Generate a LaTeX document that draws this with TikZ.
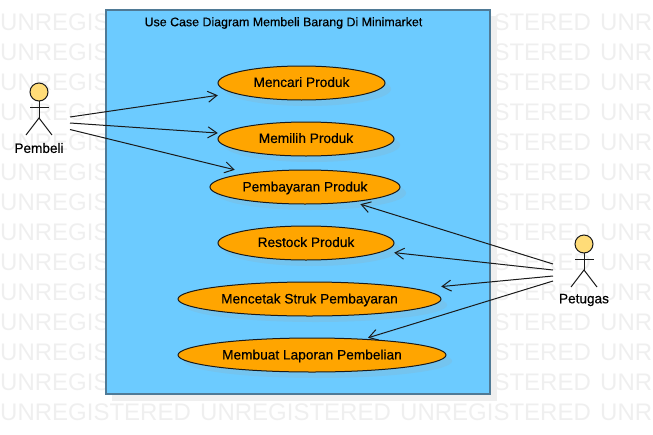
\documentclass[tikz,border=0pt]{standalone}
\usepackage{fontspec}
\setmainfont{Liberation Sans}
\usetikzlibrary{arrows.meta}
\newfontfamily\boldish[FakeBold=0.4]{Liberation Sans}
\definecolor{wm}{HTML}{EFEFEF}
\definecolor{boxfill}{HTML}{6CCBFF}
\definecolor{boxline}{HTML}{4F7A96}
\definecolor{boxshadow}{HTML}{EFEFEF}
\definecolor{caseshadow}{HTML}{74C4EF}
\definecolor{casefill}{HTML}{FFA500}
\definecolor{headfill}{HTML}{FFDC78}
\definecolor{inkline}{HTML}{1A1A1A}
\tikzset{
  watermark/.style={anchor=base west,inner sep=0pt,text=wm,font=\fontsize{24}{24}\selectfont},
  casetext/.style={rectangle,inner sep=0pt,text=black,font=\boldish\fontsize{13.7}{15}\selectfont},
  casering/.style={draw=inkline,line width=1pt,fill=casefill},
  caseshade/.style={fill=caseshadow},
  actorline/.style={draw=inkline,line width=1pt},
  actorlabel/.style={inner sep=0pt,text=black,font=\boldish\fontsize{13.6}{15}\selectfont},
  assoc/.style={draw=inkline,line width=1pt,-{Straight Barb[length=9pt,width=11pt,line width=1pt]}},
  titletext/.style={inner sep=0pt,text=black,font=\boldish\fontsize{12.4}{15}\selectfont}
}
\newcommand{\usecaseshape}[6]{%
  \path[caseshade] (#2+6,#3+6) ellipse [x radius=#4,y radius=17];
  \path[casering] (#2,#3) ellipse [x radius=#4,y radius=17];
  \node[casetext,minimum width=2*#4 pt,minimum height=34pt,text depth=0pt] (#1) at (#2,#3) {\raisebox{#6pt}{#5}};
}
\newcommand{\stickman}[6]{% name, cx, head centre y, label y, label, legs half
  \path[actorline,fill=headfill] (#2,#3) circle [radius=9];
  \path[actorline] (#2,#3+9) -- (#2,#3+26);
  \path[actorline] (#2-9,#3+15) -- (#2+10,#3+15);
  \path[actorline] (#2-#6,#3+43) -- (#2,#3+26) -- (#2+#6,#3+43);
  \node[actorlabel] (#1) at (#2,#4) {#5};
}
\begin{document}
\begin{tikzpicture}[x=1pt,y=-1pt]
\useasboundingbox (0,0) rectangle (653,434);
\begin{scope}
\clip (0,0) rectangle (653,434);
\foreach \r in {0,...,13}{
  \foreach \c in {0,1,2,3}{
    \node[watermark] (wm\r\c) at (\c*200,30+\r*30) {UNREGISTERED};
  }
}
\end{scope}
\path[fill=boxshadow] (112,16) rectangle (497,401);
\path[fill=boxfill,draw=boxline,line width=2pt] (106,10) rectangle (490,394);
\node[titletext] (title) at (283.5,23) {Use Case Diagram Membeli Barang Di Minimarket};
\usecaseshape{mencari}{301.5}{83}{83.5}{Mencari Produk}{2}
\usecaseshape{memilih}{306}{139}{88}{Memilih Produk}{2}
\usecaseshape{bayar}{305}{187}{95}{Pembayaran Produk}{1}
\usecaseshape{restock}{306}{243}{88}{Restock Produk}{2}
\usecaseshape{cetak}{309.5}{299}{131.5}{Mencetak Struk Pembayaran}{1}
\usecaseshape{laporan}{312}{355}{134}{Membuat Laporan Pembelian}{1}
\stickman{pembeli}{39}{92}{148}{Pembeli}{13}
\stickman{petugas}{584}{244}{300}{Petugas}{13}
\coordinate (pa) at (70,117);
\coordinate (pb) at (70,123);
\coordinate (pc) at (70,129.5);
\coordinate (qa) at (553,264);
\coordinate (qb) at (553,270);
\coordinate (qc) at (553,276);
\coordinate (qd) at (553,281);
\draw[assoc] (pa) -- (mencari);
\draw[assoc] (pb) -- (memilih);
\draw[assoc] (pc) -- (bayar);
\draw[assoc] (qa) -- (bayar);
\draw[assoc] (qb) -- (restock);
\draw[assoc] (qc) -- (cetak);
\draw[assoc] (qd) -- (laporan);
\end{tikzpicture}
\end{document}
